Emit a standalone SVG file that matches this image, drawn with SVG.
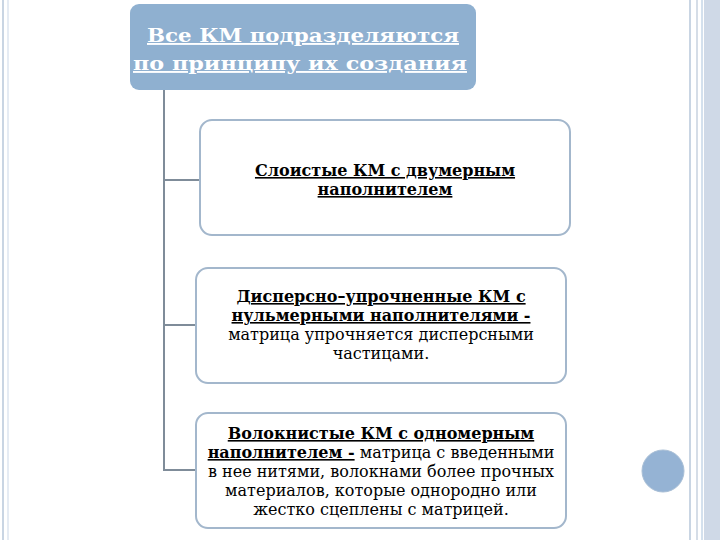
<svg xmlns="http://www.w3.org/2000/svg" width="720" height="540" viewBox="0 0 720 540">
<style>
.box{fill:#fff;stroke:#a3b7cc;stroke-width:2}
.t{font-family:"DejaVu Serif","Liberation Serif",serif;font-size:16px;fill:#000;text-anchor:middle}
.b{font-weight:bold;text-decoration:underline}
.h{font-family:"DejaVu Serif","Liberation Serif",serif;font-size:19px;font-weight:bold;fill:#fff;text-anchor:middle;text-decoration:underline}
.c{stroke:#7f8c99;stroke-width:2;fill:none}
</style>
<rect width="720" height="540" fill="#fff"/>
<g id="frame" fill="none">
<line x1="3" y1="0" x2="3" y2="540" stroke="#c9d5e3" stroke-width="2"/>
<line x1="8" y1="0" x2="8" y2="540" stroke="#dde5ef" stroke-width="1.5"/>
<line x1="690" y1="0" x2="690" y2="540" stroke="#c9d5e3" stroke-width="2"/>
<line x1="697" y1="0" x2="697" y2="540" stroke="#d5dde7" stroke-width="2"/>
<line x1="702" y1="0" x2="702" y2="540" stroke="#a9c2dc" stroke-width="1"/>
<rect x="704" y="0" width="16" height="540" fill="#cfd9e7" stroke="none"/>
</g>
<circle cx="663" cy="471" r="21" fill="#95b3d4" stroke="#a9bfd6"/>
<g id="connectors" class="c">
<line x1="164" y1="90" x2="164" y2="470"/>
<line x1="163" y1="180" x2="200" y2="180"/>
<line x1="163" y1="325" x2="196" y2="325"/>
<line x1="163" y1="470" x2="196" y2="470"/>
</g>
<g id="root">
<rect x="130" y="4" width="346" height="86" rx="9" fill="#8fb0d0"/>
<text class="h" x="303" y="42" textLength="312" lengthAdjust="spacingAndGlyphs">Все КМ подразделяются</text>
<text class="h" x="300" y="70" textLength="334" lengthAdjust="spacingAndGlyphs">по принципу их создания</text>
</g>
<g id="n1">
<rect class="box" x="200" y="120" width="370" height="115" rx="12"/>
<text class="t b" x="385" y="176">Слоистые КМ с двумерным</text>
<text class="t b" x="385" y="195">наполнителем</text>
</g>
<g id="n2">
<rect class="box" x="196" y="268" width="370" height="115" rx="12"/>
<text class="t b" x="381" y="302">Дисперсно–упрочненные КМ с</text>
<text class="t" x="381" y="321"><tspan class="b">нульмерными наполнителями -</tspan></text>
<text class="t" x="381" y="340">матрица упрочняется дисперсными</text>
<text class="t" x="381" y="359">частицами.</text>
</g>
<g id="n3">
<rect class="box" x="196" y="413" width="370" height="115" rx="12"/>
<text class="t b" x="381" y="439">Волокнистые КМ с одномерным</text>
<text class="t" x="381" y="458"><tspan class="b">наполнителем -</tspan> матрица с введенными</text>
<text class="t" x="381" y="477">в нее нитями, волокнами более прочных</text>
<text class="t" x="381" y="496">материалов, которые однородно или</text>
<text class="t" x="381" y="515">жестко сцеплены с матрицей.</text>
</g>
</svg>
